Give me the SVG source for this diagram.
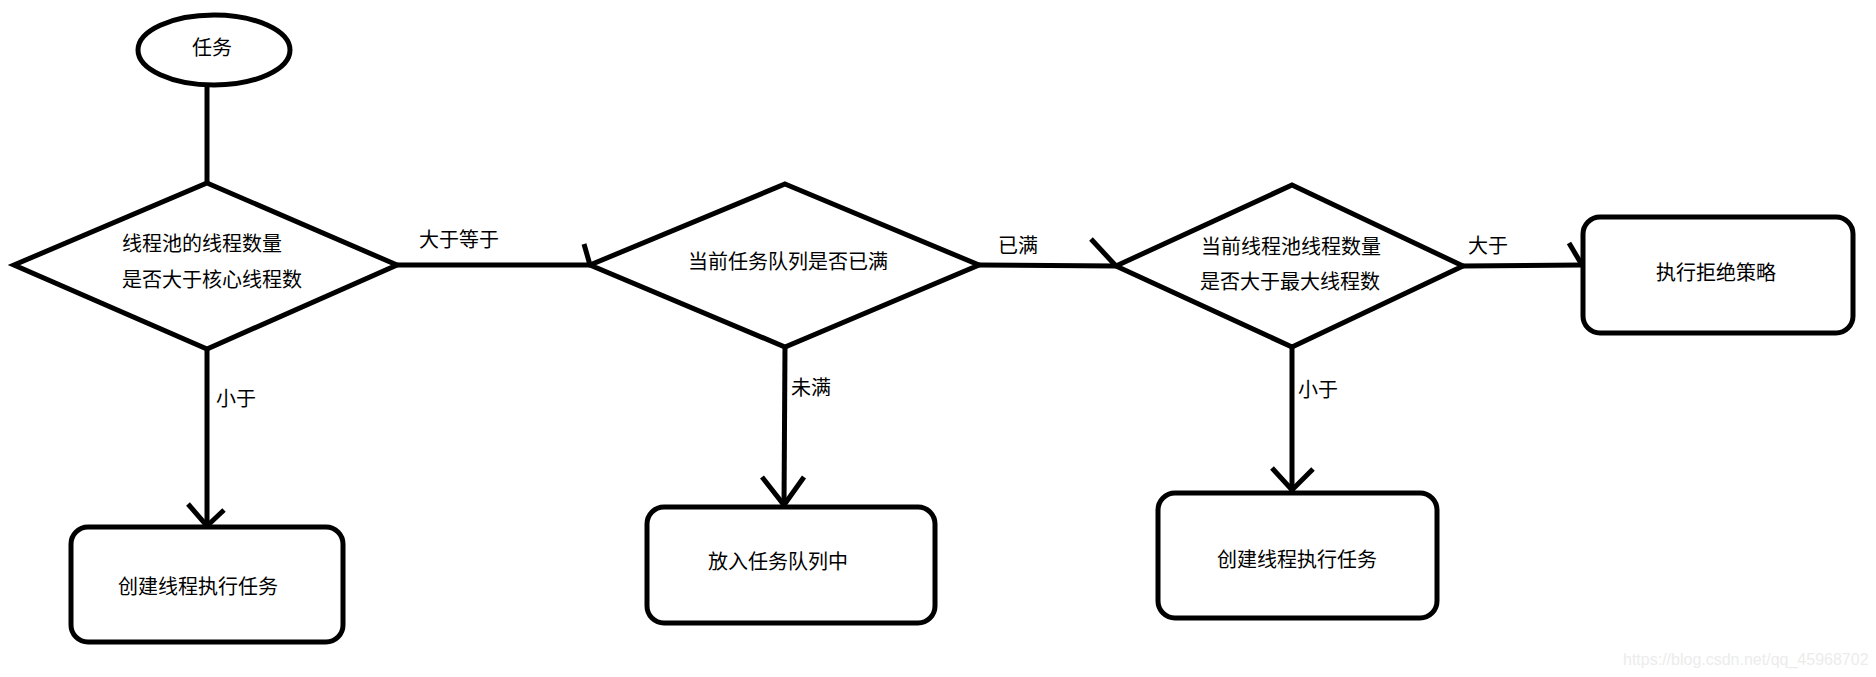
<svg xmlns="http://www.w3.org/2000/svg" width="1876" height="677" viewBox="0 0 1876 677">
<style>
.s{fill:none;stroke:#000;stroke-width:5;stroke-linejoin:miter;stroke-linecap:butt}
.n{fill:#fff;stroke:#000;stroke-width:5}
.t{font-family:"Noto Sans CJK SC","Microsoft YaHei",sans-serif;font-size:20px;fill:#000}
.m{text-anchor:middle}
.w{font-family:"Liberation Sans",Arial,sans-serif;font-size:16px;fill:#ececec}
</style>
<rect width="1876" height="677" fill="#fff"/>
<g id="connectors">
<line class="s" x1="207" y1="84" x2="207" y2="183"/>
<line class="s" x1="397" y1="265" x2="590" y2="265"/>
<polyline class="s" points="584,244 590,265"/>
<line class="s" x1="979" y1="265" x2="1116" y2="266"/>
<polyline class="s" points="1091,239 1116,266"/>
<line class="s" x1="1463" y1="266" x2="1582" y2="265"/>
<polyline class="s" points="1569,243 1582,265"/>
<line class="s" x1="207" y1="349" x2="207" y2="526"/>
<polyline class="s" points="188,504 207,526 224,510"/>
<line class="s" x1="785" y1="347" x2="784" y2="506"/>
<polyline class="s" points="762,477 784,505 804,477"/>
<line class="s" x1="1292" y1="347" x2="1292" y2="492"/>
<polyline class="s" points="1272,468 1292,490 1313,469"/>
<text class="t" x="419" y="247">大于等于</text>
<text class="t" x="998" y="253">已满</text>
<text class="t" x="1468" y="253">大于</text>
<text class="t" x="216" y="406">小于</text>
<text class="t" x="791" y="395">未满</text>
<text class="t" x="1298" y="397">小于</text>
</g>
<g id="start">
<ellipse class="n" cx="214" cy="50" rx="76" ry="35"/>
<text class="t m" x="212" y="55">任务</text>
</g>
<g id="decision1">
<polygon class="n" points="207,183 397,265 207,349 14,265"/>
<text class="t" x="122" y="251">线程池的线程数量</text>
<text class="t" x="122" y="287">是否大于核心线程数</text>
</g>
<g id="decision2">
<polygon class="n" points="785,184 979,265 785,347 590,265"/>
<text class="t m" x="788" y="269">当前任务队列是否已满</text>
</g>
<g id="decision3">
<polygon class="n" points="1292,185 1463,266 1292,347 1116,266"/>
<text class="t" x="1201" y="254">当前线程池线程数量</text>
<text class="t" x="1200" y="289">是否大于最大线程数</text>
</g>
<g id="reject">
<rect class="n" x="1583" y="217" width="270" height="116" rx="17"/>
<text class="t m" x="1716" y="280">执行拒绝策略</text>
</g>
<g id="create1">
<rect class="n" x="71" y="527" width="272" height="115" rx="17"/>
<text class="t" x="118" y="594">创建线程执行任务</text>
</g>
<g id="queue">
<rect class="n" x="647" y="507" width="288" height="116" rx="17"/>
<text class="t" x="708" y="569">放入任务队列中</text>
</g>
<g id="create2">
<rect class="n" x="1158" y="493" width="279" height="125" rx="17"/>
<text class="t" x="1217" y="567">创建线程执行任务</text>
</g>
<text class="w" x="1623" y="665">https://blog.csdn.net/qq_45968702</text>
</svg>
